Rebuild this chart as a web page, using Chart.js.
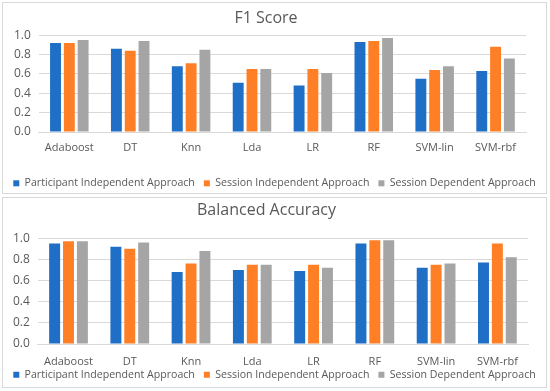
<!DOCTYPE html>
<html>
<head>
<meta charset="utf-8">
<script src="https://cdn.jsdelivr.net/npm/chart.js@4"></script>
<style>
  body { margin: 0; background: #fff; width: 550px; height: 391px; position: relative; overflow: hidden; }
  .box { position: absolute; border: 1px solid #D9D9D9; box-sizing: border-box; background: #fff; }
  .box canvas { display: block; }
</style>
</head>
<body>
<div class="box" id="box1" style="left:2px; top:2px; width:545px; height:192px;"><canvas id="f1Chart"></canvas></div>
<div class="box" id="box2" style="left:2px; top:197px; width:545px; height:191px;"><canvas id="baChart"></canvas></div>
<script>
const categories = ['Adaboost', 'DT', 'Knn', 'Lda', 'LR', 'RF', 'SVM-lin', 'SVM-rbf'];
const seriesNames = ['Participant Independent Approach', 'Session Independent Approach', 'Session Dependent Approach'];
const seriesColors = ['#1F6FC6', '#FF7F27', '#A5A5A5'];

// F1 Score
const f1Participant = [0.92, 0.86, 0.68, 0.51, 0.48, 0.93, 0.55, 0.63];
const f1SessionInd = [0.92, 0.84, 0.71, 0.65, 0.65, 0.94, 0.64, 0.88];
const f1SessionDep = [0.95, 0.94, 0.85, 0.65, 0.61, 0.97, 0.68, 0.76];

// Balanced Accuracy
const baParticipant = [0.95, 0.92, 0.68, 0.70, 0.69, 0.95, 0.72, 0.77];
const baSessionInd = [0.97, 0.90, 0.76, 0.75, 0.75, 0.98, 0.75, 0.95];
const baSessionDep = [0.97, 0.96, 0.88, 0.75, 0.72, 0.98, 0.76, 0.82];

const yTicks = [0.0, 0.2, 0.4, 0.6, 0.8, 1.0];

Chart.defaults.font.family = '"Open Sans", "Noto Sans", sans-serif';
Chart.defaults.color = '#595959';

// legend spans the whole box (no wrapping), fixed height, optional upward shift
const legendFit = {
  id: 'legendFit',
  beforeInit(chart, args, opts) {
    const legend = chart.legend;
    const fit = legend.fit;
    legend.fit = function () {
      this.maxWidth = chart.width;
      fit.call(this);
      this.height = opts.h;
    };
    const draw = legend.draw;
    legend.draw = function () {
      const l = this.left, r = this.right, t = this.top, b = this.bottom;
      const shift = this.chart.options.plugins.legendFit.shift || 0;
      this.left = 0;
      this.right = chart.width;
      this.top = t - shift;
      this.bottom = chart.height;
      draw.call(this);
      this.left = l;
      this.right = r;
      this.top = t;
      this.bottom = b;
    };
  }
};

function makeChart(id, title, values, lay) {
  const ctx = document.getElementById(id).getContext('2d');
  return new Chart(ctx, {
    type: 'bar',
    data: {
      labels: categories,
      datasets: values.map((v, i) => ({
        label: seriesNames[i],
        data: v,
        backgroundColor: seriesColors[i],
        borderWidth: 0,
        categoryPercentage: 0.68,
        barPercentage: 0.79
      }))
    },
    options: {
      responsive: true,
      maintainAspectRatio: false,
      animation: false,
      layout: { padding: lay.padding },
      plugins: {
        title: {
          display: true,
          text: title,
          font: { size: 16, weight: 'normal' },
          color: '#595959',
          padding: lay.titlePad
        },
        legend: {
          position: 'bottom',
          labels: { boxWidth: 6, boxHeight: 6, padding: 9, font: { size: 10.6 }, color: '#595959' }
        },
        legendFit: { h: lay.legendH, shift: lay.legendShift },
        tooltip: { enabled: false }
      },
      scales: {
        x: {
          grid: { display: false, drawTicks: false },
          border: { display: true, color: '#D9D9D9' },
          ticks: { font: { size: 11 }, padding: lay.xPad, color: '#595959' },
          afterFit(scale) { scale.height = lay.xH; }
        },
        y: {
          min: 0,
          max: 1,
          afterBuildTicks(scale) { scale.ticks = yTicks.map(v => ({ value: v })); },
          grid: { color: '#D9D9D9', drawTicks: false },
          border: { display: false },
          ticks: {
            font: { size: 12 },
            padding: 8,
            color: '#595959',
            callback: v => v.toFixed(1)
          }
        }
      }
    },
    plugins: [legendFit]
  });
}

makeChart('f1Chart', 'F1 Score', [f1Participant, f1SessionInd, f1SessionDep], {
  padding: { left: 3, right: 20, top: 0, bottom: 2 },
  titlePad: { top: 6, bottom: 7 },
  xPad: 9,
  xH: 37,
  legendH: 22,
  legendShift: 0
});

makeChart('baChart', 'Balanced Accuracy', [baParticipant, baSessionInd, baSessionDep], {
  padding: { left: 2, right: 18, top: 0, bottom: 2 },
  titlePad: { top: 3, bottom: 18 },
  xPad: 11,
  xH: 27,
  legendH: 14,
  legendShift: 10.5
});
</script>
</body>
</html>
